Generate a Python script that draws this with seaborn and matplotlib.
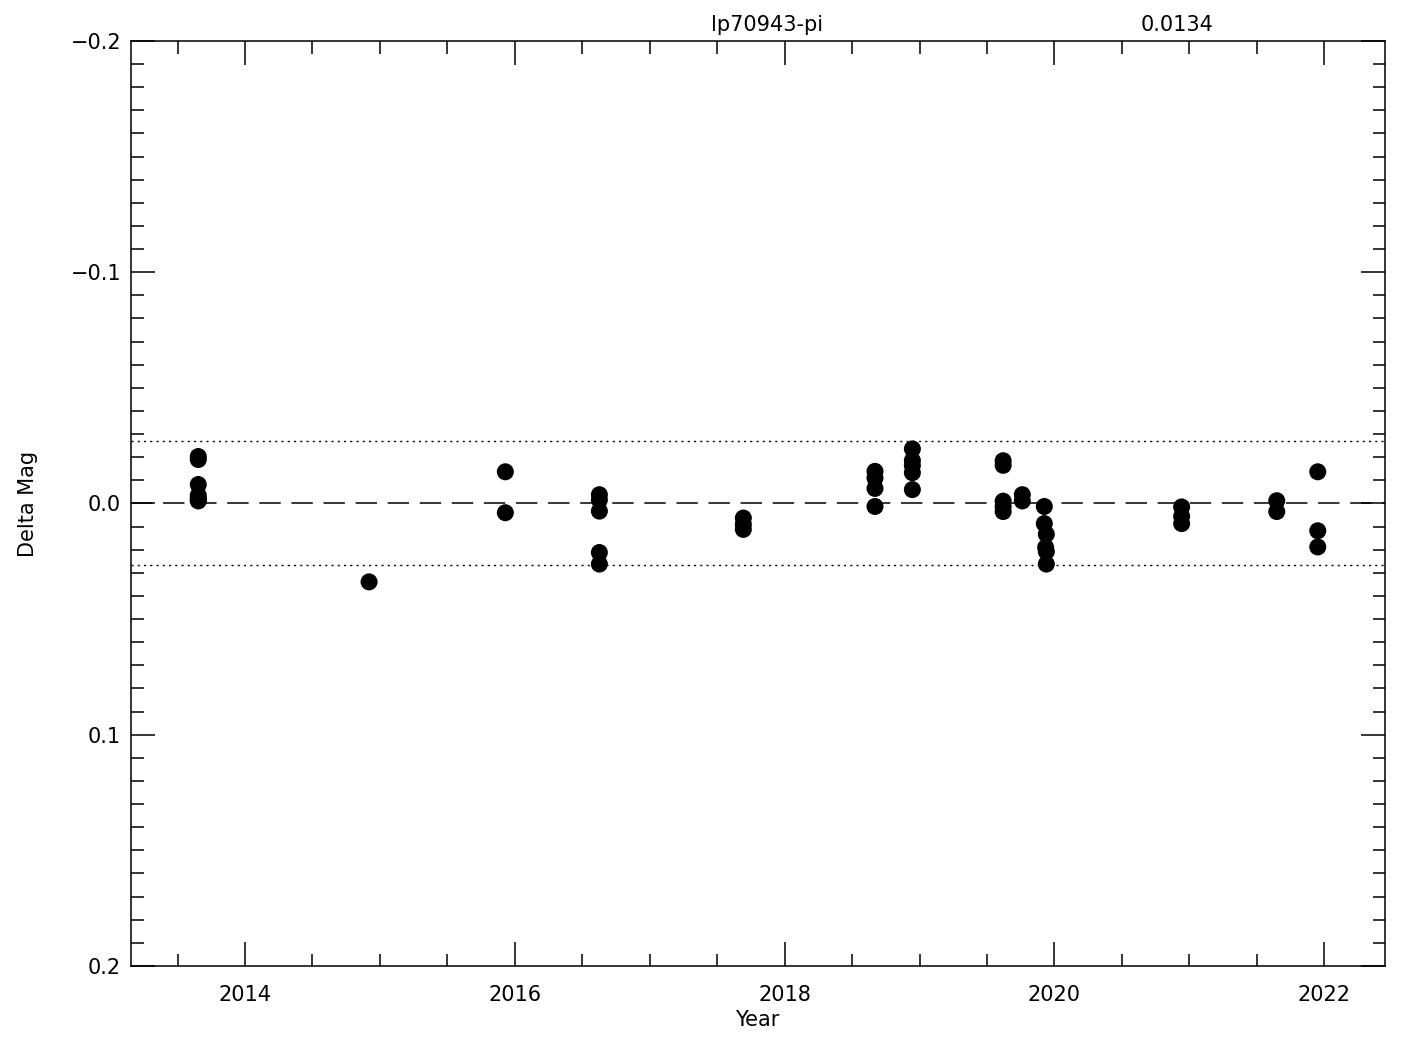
import matplotlib
matplotlib.use("Agg")
import matplotlib.pyplot as plt
from matplotlib.ticker import MultipleLocator
import pandas as pd
import seaborn as sns

# Photometry monitoring values
years = [
    2013.654, 2013.654, 2013.654, 2013.654, 2013.654, 2013.654, 2013.654,
    2014.92,
    2015.93, 2015.93,
    2016.627, 2016.627, 2016.627, 2016.627, 2016.627,
    2017.694, 2017.694, 2017.694,
    2018.67, 2018.67, 2018.67, 2018.67,
    2018.947, 2018.947, 2018.947, 2018.947, 2018.947,
    2019.62, 2019.62, 2019.62, 2019.62, 2019.62,
    2019.762, 2019.762,
    2019.925, 2019.925, 2019.94, 2019.935, 2019.94, 2019.94,
    2020.943, 2020.943, 2020.943,
    2021.648, 2021.648,
    2021.952, 2021.952, 2021.952,
]
delta_mag = [
    -0.0203, -0.0190, -0.0082, -0.0035, -0.0022, -0.0011, -0.0015,
    0.0339,
    -0.0137, 0.0040,
    -0.0038, -0.0015, 0.0033, 0.0212, 0.0262,
    0.0063, 0.0090, 0.0112,
    -0.0139, -0.0110, -0.0065, 0.0013,
    -0.0236, -0.0186, -0.0164, -0.0133, -0.0060,
    -0.0185, -0.0165, -0.0010, 0.0013, 0.0035,
    -0.0038, -0.0011,
    0.0013, 0.0087, 0.0133, 0.0190, 0.0208, 0.0262,
    0.0015, 0.0056, 0.0087,
    -0.0012, 0.0035,
    -0.0137, 0.0118, 0.0188,
]
star_name = "lp70943-pi"
rms = 0.0134
year_ticks = [2014, 2016, 2018, 2020, 2022]


def main():
    df = pd.DataFrame({"Year": years, "Delta Mag": delta_mag})

    sns.set_theme(style="ticks")
    plt.rcParams["font.family"] = ["DejaVu Sans"]
    plt.rcParams.update({
        "axes.linewidth": 1.1,
        "axes.edgecolor": "black",
        "axes.labelcolor": "black",
        "text.color": "black",
        "xtick.color": "black",
        "ytick.color": "black",
    })

    fig = plt.figure(figsize=(14.25, 10.5), dpi=100)
    ax = fig.add_axes([0.0919, 0.08, 0.88, 0.881])

    sns.scatterplot(data=df, x="Year", y="Delta Mag", ax=ax,
                    color="black", s=150, edgecolor="none", zorder=3)

    # zero line and +/- 2 sigma limits
    ax.axhline(0.0, color="black", lw=1.1, dashes=(14, 7))
    ax.axhline(2 * rms, color="black", lw=1.0, dashes=(1.5, 3))
    ax.axhline(-2 * rms, color="black", lw=1.0, dashes=(1.5, 3))

    ax.set_xlim(2013.155, 2022.45)
    ax.set_ylim(0.2, -0.2)
    ax.set_xticks(year_ticks)
    ax.xaxis.set_minor_locator(MultipleLocator(0.5))
    ax.yaxis.set_major_locator(MultipleLocator(0.1))
    ax.yaxis.set_minor_locator(MultipleLocator(0.01))
    ax.yaxis.set_major_formatter(lambda v, p: f"{v:.1f}".replace("-", "\u2212") if abs(v) > 1e-9 else "0.0")

    ax.tick_params(which="both", direction="in", top=True, right=True,
                   width=1.1, labelsize=15)
    ax.tick_params(which="major", length=17)
    ax.tick_params(which="minor", length=9)
    ax.tick_params(axis="x", which="major", pad=14)
    ax.tick_params(axis="y", which="major", pad=7)

    ax.set_xlabel("Year", fontsize=15)
    ax.set_ylabel("Delta Mag", fontsize=15)
    ax.xaxis.set_label_coords(0.499, -0.048)
    ax.yaxis.set_label_coords(-0.074, 0.5)

    fig.text(0.538, 0.976, star_name, ha="center", va="center", fontsize=15)
    fig.text(0.826, 0.976, f"{rms:.4f}", ha="center", va="center", fontsize=15)

    fig.savefig("out.png", dpi=100)


if __name__ == "__main__":
    main()
